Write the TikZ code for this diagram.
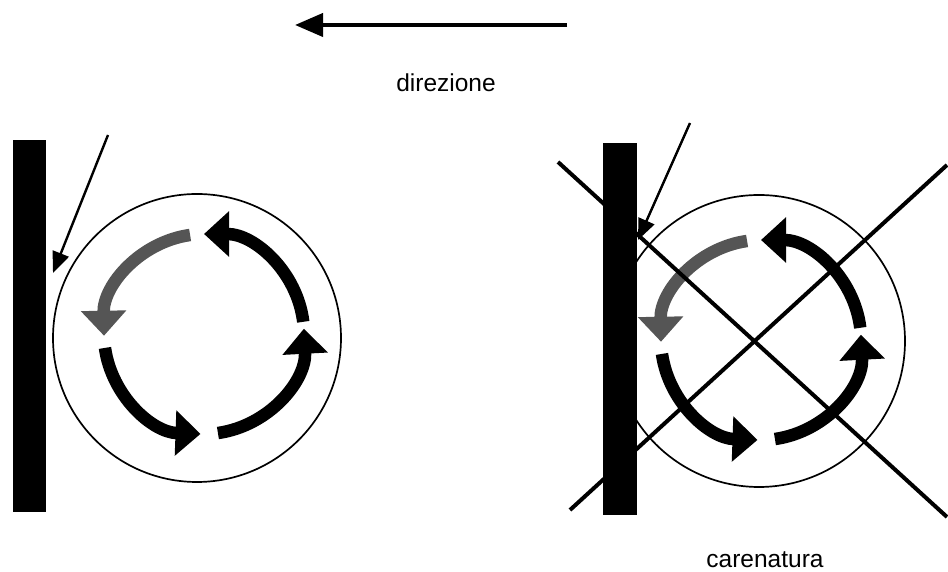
\documentclass[tikz,border=0pt]{standalone}
\usepackage{fontspec}
\setmainfont{Liberation Sans}
\usetikzlibrary{arrows.meta}
\definecolor{arrowgray}{RGB}{85,85,85}
\begin{document}
\begin{tikzpicture}[x=1pt,y=1pt,
  bar/.style={fill=black,draw=none},
  pointer/.style={line width=2.4pt,-{Triangle[length=21pt,width=17pt]}},
  ring/.style={line width=1.7pt},
  rot/.style={line width=12.5pt,-{Triangle[length=25pt,width=44pt]}},
  crossline/.style={line width=4pt},
  lbl/.style={anchor=base,font=\fontsize{24.5}{28}\selectfont}]
\useasboundingbox (0,0) rectangle (948,572);
% direction arrow
\coordinate (dS) at (567,547);
\coordinate (dE) at (295,547);
\draw[line width=4pt,-{Triangle[length=28pt,width=23pt]}] (dS) -- (dE);
\node[lbl] (dir) at (446,480) {direzione};
% ---------- left panel ----------
\coordinate (LC) at (197,234);
\coordinate (LA) at (204,238);
\draw[ring] (LC) circle[radius=144];
\draw[rot] ([shift={(7:100)}]LA) arc[start angle=7,end angle=90,radius=100];
\draw[rot,draw=arrowgray] ([shift={(98:100)}]LA) arc[start angle=98,end angle=181,radius=100];
\draw[rot] ([shift={(188:100)}]LA) arc[start angle=188,end angle=268,radius=100];
\draw[rot] ([shift={(278:100)}]LA) arc[start angle=278,end angle=363,radius=100];
\fill[bar] (13,60) rectangle (46,432);
\coordinate (LpS) at (108,437);
\coordinate (LpE) at (53,299);
\draw[pointer] (LpS) -- (LpE);
% ---------- right panel ----------
\coordinate (RC) at (759,231);
\coordinate (RA) at (761,232);
\draw[ring] (RC) circle[radius=146];
\draw[rot] ([shift={(7:100)}]RA) arc[start angle=7,end angle=90,radius=100];
\draw[rot,draw=arrowgray] ([shift={(98:100)}]RA) arc[start angle=98,end angle=181,radius=100];
\draw[rot] ([shift={(188:100)}]RA) arc[start angle=188,end angle=268,radius=100];
\draw[rot] ([shift={(278:100)}]RA) arc[start angle=278,end angle=363,radius=100];
\fill[bar] (603,57) rectangle (637,429);
\coordinate (X1a) at (558,410);
\coordinate (X1b) at (947,55);
\coordinate (X2a) at (570,62);
\coordinate (X2b) at (947,407);
\draw[crossline] (X1a) -- (X1b);
\draw[crossline] (X2a) -- (X2b);
\coordinate (RpS) at (690,449);
\coordinate (RpE) at (638,332);
\draw[pointer] (RpS) -- (RpE);
\node[lbl] (car) at (765,4) {carenatura};
\end{tikzpicture}
\end{document}
